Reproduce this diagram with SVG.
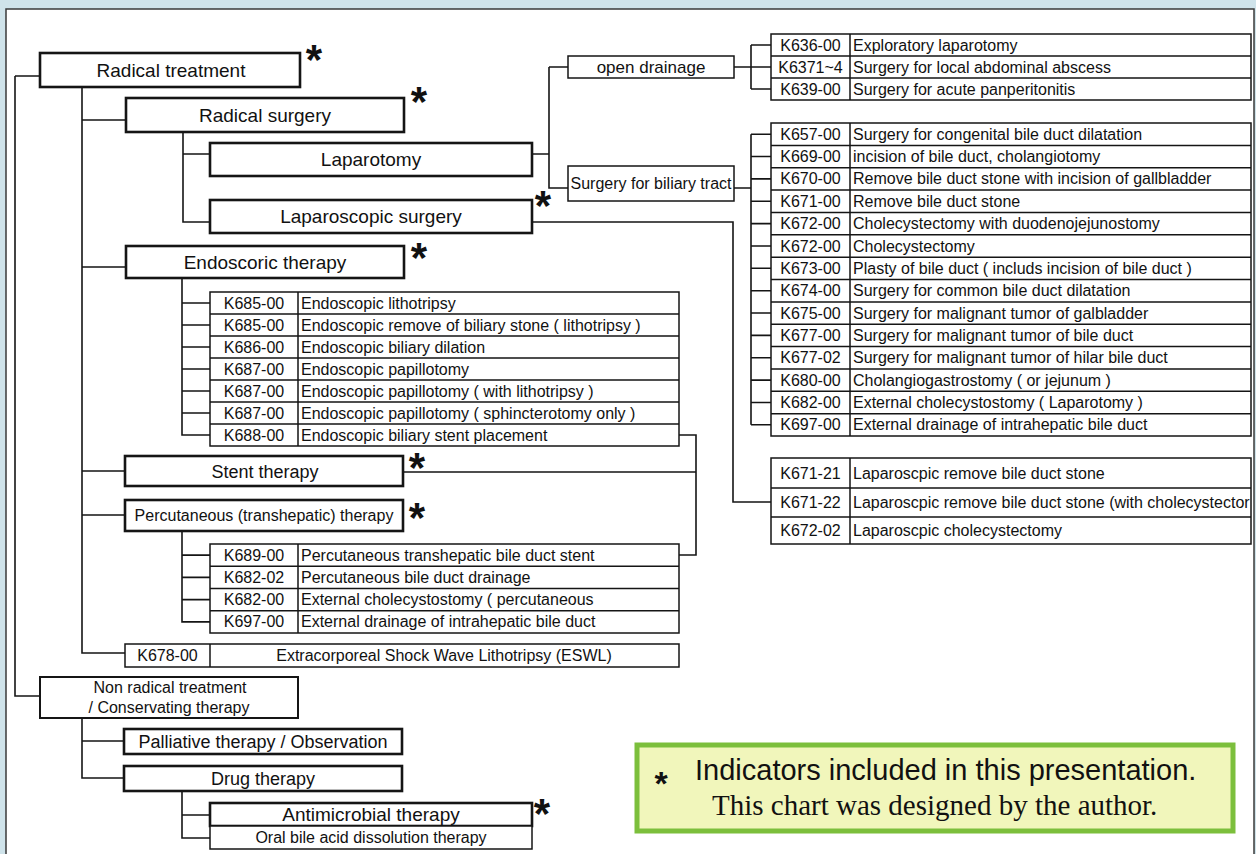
<svg xmlns="http://www.w3.org/2000/svg" width="1256" height="854" viewBox="0 0 1256 854">
<style>
.bg{fill:#cfe3ea}
.frame{fill:#fff;stroke:#3a3a3a;stroke-width:1.5}
.box{fill:#fff;stroke:#151515;stroke-width:2.6}
.thin{fill:#fff;stroke:#151515;stroke-width:1.5}
.ln{fill:none;stroke:#151515;stroke-width:1.6}
.grid{fill:none;stroke:#151515;stroke-width:1.5}
text{font-family:"Liberation Sans",Arial,sans-serif;fill:#111}
.t19{font-size:19px;text-anchor:middle}
.t18{font-size:18px;text-anchor:middle}
.t17{font-size:17px;text-anchor:middle}
.t16m{font-size:16px;text-anchor:middle}
.t16{font-size:16px}
.star{font-size:42px;font-weight:bold;text-anchor:middle}
.leg{fill:#f1f6bb;stroke:#7cbf3c;stroke-width:5}
.legs{font-size:29px}
.legstar{font-size:34px;font-weight:bold;text-anchor:middle}
.legserif{font-family:"Liberation Serif","Times New Roman",serif;font-size:29px}
</style>
<rect class="bg" x="0" y="0" width="1256" height="854"/>
<rect class="frame" x="6" y="9" width="1248" height="860"/>

<g id="connectors">
<path class="ln" d="M15,76 H40 M15,76 V696 H40"/>
<path class="ln" d="M82,87 V653 H125 M82,120 H126 M82,267 H126 M82,471 H125 M82,515 H125"/>
<path class="ln" d="M183,132 V222 H210 M183,154 H210"/>
<path class="ln" d="M532,154 H549 M549,67 V188 H568 M549,67 H568"/>
<path class="ln" d="M734,67 H751 M751,45 V89 M751,45 H771 M751,67 H771 M751,89 H771"/>
<path class="ln" d="M734,188 H751 M751,134.2 V424.8 M751,134.2 H771 M751,156.5 H771 M751,178.9 H771 M751,201.3 H771 M751,223.6 H771 M751,246 H771 M751,268.3 H771 M751,290.7 H771 M751,313 H771 M751,335.4 H771 M751,357.8 H771 M751,380.1 H771 M751,402.5 H771 M751,424.8 H771"/>
<path class="ln" d="M532,222 H733 V502 H771"/>
<path class="ln" d="M182,278 V435 H210 M182,303 H210 M182,325 H210 M182,347 H210 M182,369 H210 M182,391 H210 M182,413 H210"/>
<path class="ln" d="M679,435 H696 V555 H679 M403,472 H696"/>
<path class="ln" d="M182,531 V621.9 H210 M182,555.1 H210 M182,577.4 H210 M182,599.6 H210"/>
<path class="ln" d="M82,718 V778 H124 M82,741 H124"/>
<path class="ln" d="M182,791 V838 H210 M182,815 H210"/>
</g>

<g id="radical-treatment">
<rect class="box" x="40" y="53" width="260" height="34"/>
<text class="t19" x="171" y="77">Radical treatment</text>
<text class="star" x="314" y="74">*</text>
</g>
<g id="radical-surgery">
<rect class="box" x="126" y="98" width="278" height="34"/>
<text class="t19" x="265" y="122">Radical surgery</text>
<text class="star" x="419" y="116">*</text>
</g>
<g id="laparotomy">
<rect class="box" x="210" y="143" width="322" height="33"/>
<text class="t19" x="371" y="166">Laparotomy</text>
</g>
<g id="laparoscopic-surgery">
<rect class="box" x="210" y="200" width="322" height="33"/>
<text class="t19" x="371" y="223">Laparoscopic surgery</text>
<text class="star" x="543" y="220">*</text>
</g>
<g id="endoscoric-therapy">
<rect class="box" x="126" y="246" width="278" height="32"/>
<text class="t19" x="265" y="269">Endoscoric therapy</text>
<text class="star" x="419" y="272">*</text>
</g>

<g id="endoscopic-table">
<rect class="grid" x="210" y="292" width="469" height="154"/>
<path class="grid" d="M298,292 V446 M210,314 H679 M210,336 H679 M210,358 H679 M210,380 H679 M210,402 H679 M210,424 H679"/>
<text class="t16m" x="254" y="308.5">K685-00</text>
<text class="t16m" x="254" y="330.5">K685-00</text>
<text class="t16m" x="254" y="352.5">K686-00</text>
<text class="t16m" x="254" y="374.5">K687-00</text>
<text class="t16m" x="254" y="396.5">K687-00</text>
<text class="t16m" x="254" y="418.5">K687-00</text>
<text class="t16m" x="254" y="440.5">K688-00</text>
<text class="t16" x="301" y="308.5">Endoscopic lithotripsy</text>
<text class="t16" x="301" y="330.5">Endoscopic remove of biliary stone ( lithotripsy )</text>
<text class="t16" x="301" y="352.5">Endoscopic biliary dilation</text>
<text class="t16" x="301" y="374.5">Endoscopic papillotomy</text>
<text class="t16" x="301" y="396.5">Endoscopic papillotomy ( with lithotripsy )</text>
<text class="t16" x="301" y="418.5">Endoscopic papillotomy ( sphincterotomy only )</text>
<text class="t16" x="301" y="440.5">Endoscopic biliary stent placement</text>
</g>

<g id="stent-therapy">
<rect class="box" x="125" y="456" width="278" height="30"/>
<text class="t18" x="265" y="477.5">Stent therapy</text>
<text class="star" x="417" y="482">*</text>
</g>
<g id="percutaneous-therapy">
<rect class="box" x="125" y="500" width="278" height="31"/>
<text class="t16m" x="264" y="521">Percutaneous (transhepatic) therapy</text>
<text class="star" x="417" y="532">*</text>
</g>

<g id="percutaneous-table">
<rect class="grid" x="210" y="544" width="469" height="89"/>
<path class="grid" d="M298,544 V633 M210,566.25 H679 M210,588.5 H679 M210,610.75 H679"/>
<text class="t16m" x="254" y="560.6">K689-00</text>
<text class="t16m" x="254" y="582.9">K682-02</text>
<text class="t16m" x="254" y="605.1">K682-00</text>
<text class="t16m" x="254" y="627.4">K697-00</text>
<text class="t16" x="301" y="560.6">Percutaneous transhepatic bile duct stent</text>
<text class="t16" x="301" y="582.9">Percutaneous bile duct drainage</text>
<text class="t16" x="301" y="605.1">External cholecystostomy ( percutaneous</text>
<text class="t16" x="301" y="627.4">External drainage of intrahepatic bile duct</text>
</g>

<g id="eswl">
<rect class="grid" x="125" y="644" width="554" height="23"/>
<path class="grid" d="M210,644 V667"/>
<text class="t16m" x="167.5" y="661">K678-00</text>
<text class="t16m" x="444" y="661">Extracorporeal Shock Wave Lithotripsy (ESWL)</text>
</g>

<g id="non-radical">
<rect class="box" x="40" y="677" width="258" height="41" style="stroke-width:2"/>
<text class="t16m" x="170" y="693">Non radical treatment</text>
<text class="t16m" x="169" y="713">/ Conservating therapy</text>
</g>
<g id="palliative">
<rect class="box" x="124" y="729" width="278" height="25"/>
<text class="t18" x="263" y="748">Palliative therapy / Observation</text>
</g>
<g id="drug-therapy">
<rect class="box" x="124" y="766" width="278" height="25"/>
<text class="t18" x="263" y="785">Drug therapy</text>
</g>
<g id="antimicrobial">
<rect class="box" x="210" y="803" width="322" height="23"/>
<text class="t19" x="371" y="821">Antimicrobial therapy</text>
<text class="star" x="542" y="828">*</text>
</g>
<g id="oral-bile-acid">
<rect class="thin" x="210" y="826" width="322" height="23"/>
<text class="t16m" x="371" y="843">Oral bile acid dissolution therapy</text>
</g>

<g id="open-drainage">
<rect class="thin" x="568" y="56" width="166" height="22"/>
<text class="t17" x="651" y="73">open drainage</text>
</g>
<g id="surgery-biliary">
<rect class="thin" x="568" y="166" width="166" height="35"/>
<text class="t16m" x="651" y="189">Surgery for biliary tract</text>
</g>

<g id="open-drainage-table">
<rect class="grid" x="771" y="34" width="480" height="66"/>
<path class="grid" d="M850,34 V100 M771,56 H1251 M771,78 H1251"/>
<text class="t16m" x="810.5" y="50.5">K636-00</text>
<text class="t16m" x="810.5" y="72.5">K6371~4</text>
<text class="t16m" x="810.5" y="94.5">K639-00</text>
<text class="t16" x="853" y="50.5">Exploratory laparotomy</text>
<text class="t16" x="853" y="72.5">Surgery for local abdominal abscess</text>
<text class="t16" x="853" y="94.5">Surgery for acute panperitonitis</text>
</g>

<g id="biliary-table">
<rect class="grid" x="771" y="123" width="480" height="313"/>
<path class="grid" d="M850,123 V436 M771,145.4 H1251 M771,167.7 H1251 M771,190.1 H1251 M771,212.4 H1251 M771,234.8 H1251 M771,257.2 H1251 M771,279.5 H1251 M771,301.9 H1251 M771,324.2 H1251 M771,346.6 H1251 M771,369 H1251 M771,391.3 H1251 M771,413.7 H1251"/>
<text class="t16m" x="810.5" y="139.7">K657-00</text>
<text class="t16m" x="810.5" y="162">K669-00</text>
<text class="t16m" x="810.5" y="184.4">K670-00</text>
<text class="t16m" x="810.5" y="206.8">K671-00</text>
<text class="t16m" x="810.5" y="229.1">K672-00</text>
<text class="t16m" x="810.5" y="251.5">K672-00</text>
<text class="t16m" x="810.5" y="273.8">K673-00</text>
<text class="t16m" x="810.5" y="296.2">K674-00</text>
<text class="t16m" x="810.5" y="318.5">K675-00</text>
<text class="t16m" x="810.5" y="340.9">K677-00</text>
<text class="t16m" x="810.5" y="363.3">K677-02</text>
<text class="t16m" x="810.5" y="385.6">K680-00</text>
<text class="t16m" x="810.5" y="408">K682-00</text>
<text class="t16m" x="810.5" y="430.3">K697-00</text>
<text class="t16" x="853" y="139.7">Surgery for congenital bile duct dilatation</text>
<text class="t16" x="853" y="162">incision of bile duct, cholangiotomy</text>
<text class="t16" x="853" y="184.4">Remove bile duct stone with incision of gallbladder</text>
<text class="t16" x="853" y="206.8">Remove bile duct stone</text>
<text class="t16" x="853" y="229.1">Cholecystectomy with duodenojejunostomy</text>
<text class="t16" x="853" y="251.5">Cholecystectomy</text>
<text class="t16" x="853" y="273.8">Plasty of bile duct ( includs incision of bile duct )</text>
<text class="t16" x="853" y="296.2">Surgery for common bile duct dilatation</text>
<text class="t16" x="853" y="318.5">Surgery for malignant tumor of galbladder</text>
<text class="t16" x="853" y="340.9">Surgery for malignant tumor of bile duct</text>
<text class="t16" x="853" y="363.3">Surgery for malignant tumor of hilar bile duct</text>
<text class="t16" x="853" y="385.6">Cholangiogastrostomy ( or jejunum )</text>
<text class="t16" x="853" y="408">External cholecystostomy ( Laparotomy )</text>
<text class="t16" x="853" y="430.3">External drainage of intrahepatic bile duct</text>
</g>

<g id="laparoscopic-table">
<rect class="grid" x="771" y="458" width="480" height="86"/>
<path class="grid" d="M850,458 V544 M771,488 H1251 M771,517 H1251"/>
<text class="t16m" x="810.5" y="478.5">K671-21</text>
<text class="t16m" x="810.5" y="507.5">K671-22</text>
<text class="t16m" x="810.5" y="535.5">K672-02</text>
<text class="t16" x="853" y="478.5">Laparoscpic remove bile duct stone</text>
<text class="t16" x="853" y="507.5">Laparoscpic remove bile duct stone (with cholecystector</text>
<text class="t16" x="853" y="535.5">Laparoscpic cholecystectomy</text>
</g>

<g id="legend">
<rect class="leg" x="637" y="745" width="596" height="86"/>
<text class="legstar" x="661" y="795">*</text>
<text class="legs" x="695" y="780">Indicators included in this presentation.</text>
<text class="legserif" x="712" y="815">This chart was designed by the author.</text>
</g>
</svg>
